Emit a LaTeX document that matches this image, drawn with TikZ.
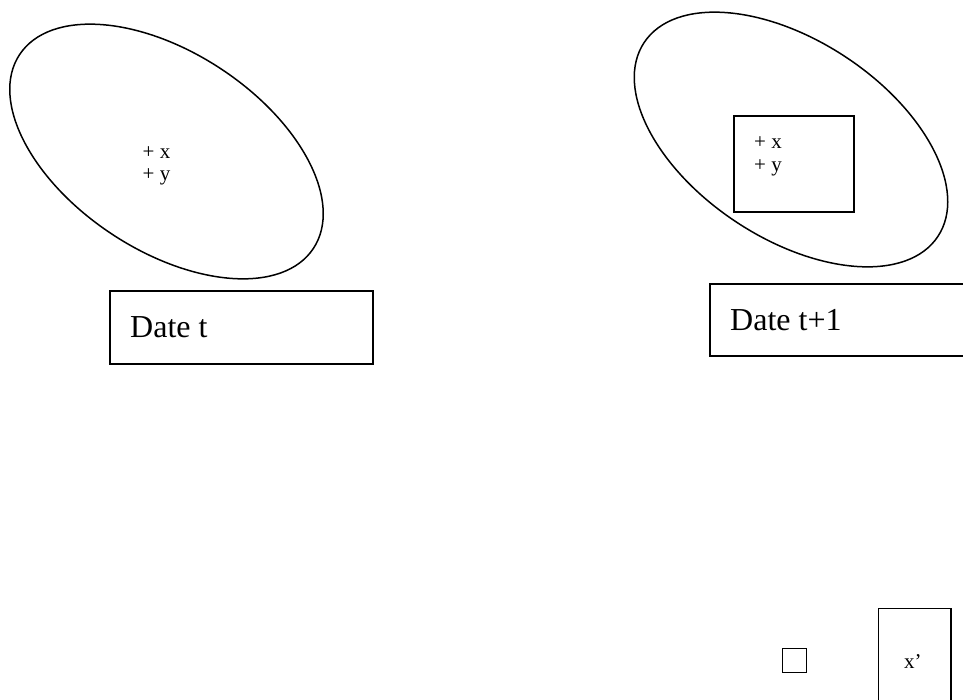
\documentclass[tikz,border=0pt]{standalone}
\usepackage{fontspec}
\setmainfont{Liberation Serif}
\usetikzlibrary{shapes.geometric}
\begin{document}
\begin{tikzpicture}[x=1pt,y=-1pt,
  oval/.style={ellipse, draw, line width=1.5pt, minimum width=352pt, minimum height=198pt, inner sep=0pt, rotate=-33.4},
  box/.style={draw, line width=1.5pt},
  small/.style={anchor=base west, inner sep=0pt, font=\fontsize{21}{23}\selectfont},
  big/.style={anchor=base west, inner sep=0pt, font=\fontsize{32}{36}\selectfont}]
\useasboundingbox (0,0) rectangle (963,699);
\clip (0,0) rectangle (963,699);
% left
\node[oval] (E1) at (166.5,151.5) {};
\node[small] (X1) at (142.5,158) {+ x};
\node[small] (Y1) at (142.5,180) {+ y};
\draw[box] (110,291) rectangle (373,364);
\coordinate (B1) at (110,291);
\node[big] (D1) at (130,337) {Date t};
% right
\node[oval] (E2) at (791,139.5) {};
\draw[box] (734,116) rectangle (854,212);
\coordinate (IB) at (734,116);
\node[small] (X2) at (754,148) {+ x};
\node[small] (Y2) at (754,171) {+ y};
\draw[box] (710,284) rectangle (980,356);
\coordinate (B2) at (710,284);
\node[big] (D2) at (730,330) {Date t+1};
% bottom right
\draw[box] (782.5,648.5) rectangle (806.5,672.5);
\coordinate (SQ) at (782.5,648.5);
\draw[box] (878.5,608.5) rectangle (951,720);
\coordinate (TB) at (878.5,608.5);
\node[anchor=base west, inner sep=0pt, font=\fontsize{21}{23}\selectfont] (XP) at (904,668) {x’};
\end{tikzpicture}
\end{document}
